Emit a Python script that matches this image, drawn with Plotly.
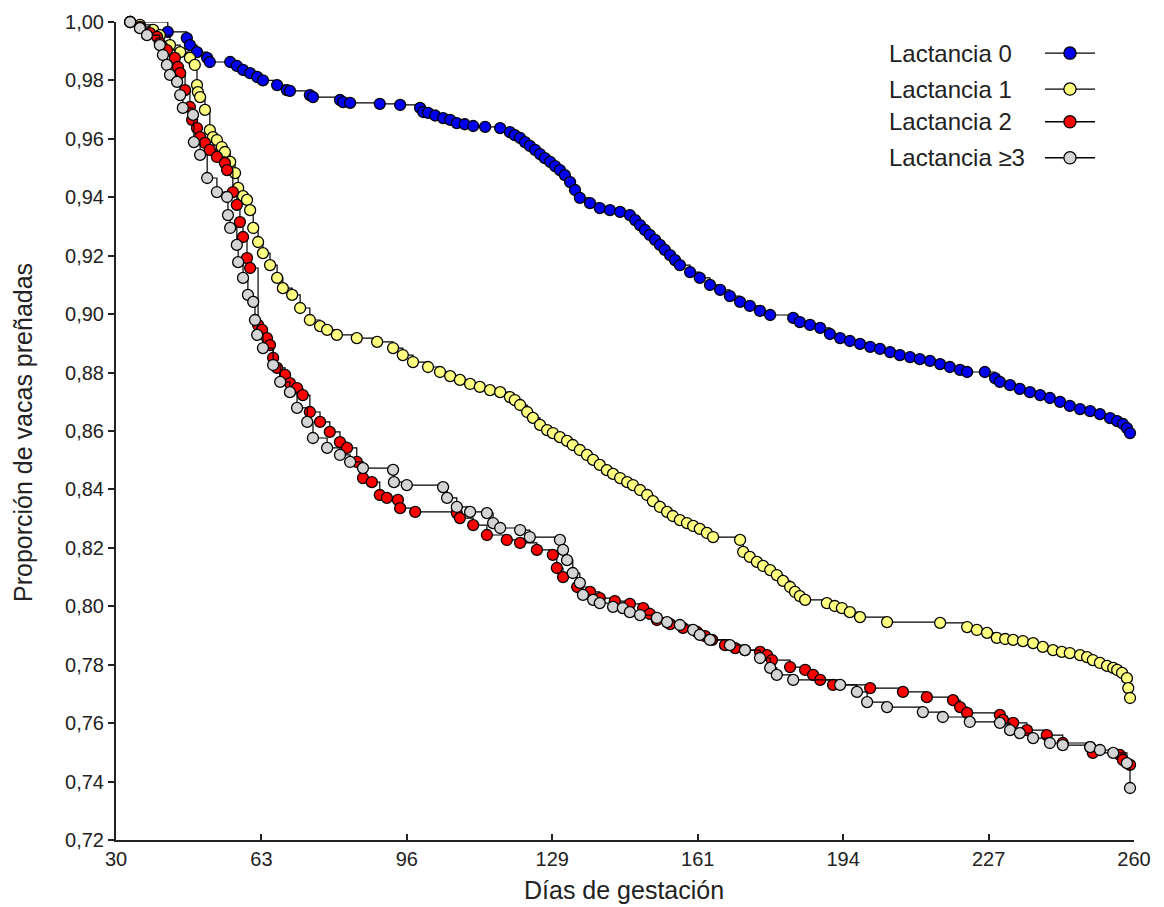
import plotly.graph_objects as go

# ---------------- data ----------------
series_names = ["Lactancia 0", "Lactancia 1", "Lactancia 2", "Lactancia \u22653"]
series_colors = ["#0000F0", "#FFFF80", "#FF0000", "#D4D4D4"]

lact0_x = [33.2, 41.7, 46.0, 46.7, 48.3, 50.6, 51.2, 55.8, 57.3, 58.7, 60.3, 61.9, 63.2, 66.4,
           68.6, 69.3, 73.8, 74.5, 80.6, 81.3, 82.9, 89.6, 94.2, 98.7, 99.4, 100.5, 102.1, 103.9,
           105.5, 107.0, 108.8, 110.7, 113.4, 116.8, 119.0, 120.1, 121.3, 122.4, 123.5, 124.7,
           125.8, 126.9, 128.1, 129.2, 130.3, 131.4, 132.6, 133.7, 134.8, 137.1, 139.3, 141.6,
           143.9, 146.1, 147.3, 148.4, 149.5, 150.6, 151.8, 152.9, 154.0, 155.2, 156.3, 157.4,
           159.7, 161.9, 164.2, 166.5, 168.7, 171.0, 173.2, 175.5, 177.8, 183.0, 184.5, 186.8,
           189.1, 191.3, 193.6, 195.8, 198.1, 200.4, 202.6, 204.9, 207.1, 209.4, 211.6, 213.9,
           216.2, 218.4, 220.7, 222.3, 226.3, 228.6, 229.7, 232.0, 234.2, 236.5, 238.8, 241.0,
           243.3, 245.5, 247.8, 250.1, 252.3, 254.6, 256.2, 257.5, 258.4, 259.1]
lact0_y = [1.0000, 0.9966, 0.9945, 0.9921, 0.9897, 0.9877, 0.9863, 0.9863, 0.9850, 0.9836,
           0.9825, 0.9812, 0.9800, 0.9784, 0.9767, 0.9764, 0.9750, 0.9743, 0.9733, 0.9726,
           0.9723, 0.9720, 0.9716, 0.9706, 0.9692, 0.9689, 0.9680, 0.9671, 0.9665, 0.9654,
           0.9650, 0.9644, 0.9641, 0.9637, 0.9623, 0.9613, 0.9603, 0.9589, 0.9576, 0.9562,
           0.9548, 0.9534, 0.9521, 0.9507, 0.9493, 0.9476, 0.9452, 0.9425, 0.9398, 0.9380,
           0.9363, 0.9356, 0.9350, 0.9339, 0.9322, 0.9305, 0.9288, 0.9271, 0.9254, 0.9237,
           0.9220, 0.9202, 0.9185, 0.9168, 0.9144, 0.9124, 0.9100, 0.9083, 0.9062, 0.9042,
           0.9028, 0.9011, 0.8997, 0.8987, 0.8973, 0.8963, 0.8953, 0.8932, 0.8918, 0.8908,
           0.8898, 0.8888, 0.8881, 0.8870, 0.8860, 0.8853, 0.8846, 0.8840, 0.8829, 0.8819,
           0.8809, 0.8802, 0.8802, 0.8781, 0.8768, 0.8757, 0.8744, 0.8733, 0.8723, 0.8713,
           0.8700, 0.8686, 0.8675, 0.8668, 0.8658, 0.8644, 0.8634, 0.8624, 0.8610, 0.8593]

lact1_x = [33.2, 35.4, 38.4, 39.9, 42.2, 44.5, 46.7, 47.8, 48.3, 48.5, 49.0, 50.1, 51.2, 51.9,
           52.8, 53.9, 54.6, 55.8, 56.9, 57.6, 58.7, 59.6, 60.3, 61.0, 62.1, 63.2, 64.8, 66.4,
           67.7, 69.8, 71.6, 73.8, 76.1, 77.7, 79.9, 84.4, 89.0, 92.6, 94.8, 97.1, 100.5, 103.2,
           105.5, 107.7, 110.0, 112.2, 114.5, 116.8, 119.0, 120.1, 121.3, 122.9, 124.2, 125.8,
           127.4, 128.7, 130.3, 131.9, 133.2, 134.8, 136.4, 137.8, 139.3, 140.9, 142.3, 143.9,
           145.5, 146.8, 148.4, 150.0, 151.3, 152.9, 154.5, 155.8, 157.4, 159.0, 160.4, 161.9,
           163.5, 164.9, 171.0, 171.7, 173.2, 174.8, 176.2, 177.8, 179.3, 180.7, 182.3, 183.4,
           184.5, 185.7, 190.6, 192.4, 194.0, 195.8, 198.1, 204.2, 216.2, 222.3, 224.5, 226.8,
           229.0, 230.9, 232.7, 234.9, 237.2, 239.4, 241.7, 243.7, 245.5, 247.8, 249.4, 250.7,
           252.3, 253.9, 255.3, 256.2, 257.3, 258.4, 258.7, 259.1]
lact1_y = [1.0000, 0.9990, 0.9973, 0.9955, 0.9921, 0.9897, 0.9877, 0.9853, 0.9784, 0.9760,
           0.9743, 0.9699, 0.9630, 0.9606, 0.9596, 0.9572, 0.9555, 0.9521, 0.9483, 0.9432,
           0.9404, 0.9391, 0.9356, 0.9295, 0.9247, 0.9209, 0.9168, 0.9124, 0.9089, 0.9066,
           0.9021, 0.8980, 0.8959, 0.8946, 0.8929, 0.8918, 0.8905, 0.8884, 0.8860, 0.8836,
           0.8819, 0.8802, 0.8788, 0.8775, 0.8761, 0.8751, 0.8740, 0.8733, 0.8716, 0.8706,
           0.8689, 0.8665, 0.8645, 0.8621, 0.8603, 0.8593, 0.8579, 0.8566, 0.8552, 0.8535,
           0.8518, 0.8501, 0.8484, 0.8466, 0.8453, 0.8439, 0.8425, 0.8415, 0.8398, 0.8381,
           0.8360, 0.8340, 0.8323, 0.8309, 0.8295, 0.8285, 0.8275, 0.8265, 0.8251, 0.8237,
           0.8227, 0.8186, 0.8169, 0.8152, 0.8138, 0.8124, 0.8107, 0.8087, 0.8066, 0.8049,
           0.8035, 0.8022, 0.8011, 0.8001, 0.7994, 0.7980, 0.7963, 0.7946, 0.7943, 0.7929,
           0.7919, 0.7909, 0.7892, 0.7888, 0.7885, 0.7881, 0.7874, 0.7861, 0.7850, 0.7844,
           0.7840, 0.7833, 0.7826, 0.7816, 0.7806, 0.7796, 0.7789, 0.7782, 0.7772, 0.7754,
           0.7720, 0.7686]

lact2_x = [33.2, 35.4, 37.7, 39.3, 39.9, 41.5, 43.3, 44.0, 44.5, 45.6, 46.7, 47.2, 48.3, 49.0,
           50.1, 51.2, 52.8, 54.6, 55.1, 56.4, 57.3, 58.0, 58.7, 59.6, 60.3, 62.1, 63.0, 64.1,
           64.8, 65.5, 66.4, 68.2, 69.3, 70.9, 72.2, 73.8, 76.1, 78.3, 80.6, 82.2, 84.4, 85.8,
           87.8, 89.6, 91.2, 93.7, 94.2, 97.6, 107.0, 107.7, 110.7, 113.8, 118.3, 121.3, 125.1,
           128.7, 129.6, 131.0, 134.2, 137.1, 139.3, 142.7, 146.1, 149.1, 150.6, 152.2, 155.2,
           158.1, 161.3, 163.1, 164.7, 167.6, 169.9, 172.1, 175.5, 177.1, 178.2, 182.3, 185.7,
           187.5, 189.1, 192.0, 200.4, 207.8, 213.2, 219.1, 220.7, 222.3, 229.7, 230.4, 232.7,
           235.8, 240.3, 243.9, 250.1, 250.7, 256.8, 257.5, 259.1]
lact2_y = [1.0000, 0.9983, 0.9962, 0.9949, 0.9928, 0.9904, 0.9877, 0.9846, 0.9825, 0.9767,
           0.9709, 0.9665, 0.9637, 0.9606, 0.9586, 0.9562, 0.9538, 0.9517, 0.9493, 0.9418,
           0.9374, 0.9315, 0.9264, 0.9192, 0.9158, 0.8963, 0.8946, 0.8918, 0.8894, 0.8850,
           0.8816, 0.8792, 0.8764, 0.8747, 0.8723, 0.8665, 0.8631, 0.8597, 0.8562, 0.8542,
           0.8494, 0.8439, 0.8425, 0.8381, 0.8371, 0.8364, 0.8336, 0.8323, 0.8319, 0.8302,
           0.8278, 0.8244, 0.8227, 0.8217, 0.8193, 0.8176, 0.8131, 0.8100, 0.8066, 0.8049,
           0.8028, 0.8018, 0.8008, 0.7994, 0.7974, 0.7953, 0.7939, 0.7926, 0.7912, 0.7898,
           0.7885, 0.7867, 0.7857, 0.7850, 0.7844, 0.7833, 0.7816, 0.7792, 0.7782, 0.7765,
           0.7748, 0.7731, 0.7720, 0.7707, 0.7689, 0.7679, 0.7655, 0.7635, 0.7628, 0.7611,
           0.7601, 0.7576, 0.7559, 0.7532, 0.7518, 0.7498, 0.7491, 0.7474, 0.7457]

lact3_x = [33.2, 35.4, 37.0, 39.9, 40.6, 41.5, 42.2, 43.8, 44.5, 45.1, 47.4, 47.6, 49.0, 50.6,
           52.8, 55.1, 55.3, 55.8, 57.3, 57.6, 58.7, 59.8, 61.0, 61.4, 61.9, 63.2, 65.5, 67.1,
           69.3, 70.9, 73.2, 74.5, 77.7, 80.6, 82.9, 85.8, 92.6, 92.8, 95.7, 103.9, 104.8, 107.0,
           110.0, 113.8, 115.2, 116.8, 121.3, 123.5, 130.3, 131.0, 131.9, 133.2, 134.8, 135.5,
           137.8, 139.3, 142.3, 144.5, 146.1, 148.4, 152.2, 154.5, 157.4, 160.4, 161.9, 164.2,
           168.7, 172.1, 175.5, 177.8, 179.3, 183.0, 193.6, 197.4, 199.7, 204.2, 212.3, 216.8,
           222.9, 229.7, 232.0, 234.2, 237.2, 241.0, 243.9, 250.1, 252.3, 255.3, 258.4, 259.1]
lact3_y = [1.0000, 0.9979, 0.9955, 0.9921, 0.9887, 0.9853, 0.9819, 0.9795, 0.9750, 0.9706,
           0.9682, 0.9589, 0.9545, 0.9466, 0.9418, 0.9401, 0.9339, 0.9295, 0.9237, 0.9178,
           0.9124, 0.9066, 0.9042, 0.8980, 0.8929, 0.8884, 0.8826, 0.8768, 0.8733, 0.8679,
           0.8631, 0.8576, 0.8542, 0.8518, 0.8494, 0.8473, 0.8467, 0.8425, 0.8415, 0.8408,
           0.8371, 0.8340, 0.8323, 0.8319, 0.8285, 0.8268, 0.8261, 0.8237, 0.8227, 0.8193,
           0.8158, 0.8114, 0.8080, 0.8039, 0.8022, 0.8011, 0.7998, 0.7994, 0.7980, 0.7970,
           0.7960, 0.7946, 0.7936, 0.7919, 0.7902, 0.7885, 0.7867, 0.7850, 0.7823, 0.7789,
           0.7765, 0.7748, 0.7731, 0.7707, 0.7672, 0.7655, 0.7638, 0.7621, 0.7604, 0.7601,
           0.7576, 0.7566, 0.7549, 0.7532, 0.7525, 0.7518, 0.7508, 0.7498, 0.7463, 0.7378]

x_tick_vals = [30 + i * (230 / 7) for i in range(8)]
x_tick_text = ["30", "63", "96", "129", "161", "194", "227", "260"]
y_tick_vals = [0.72, 0.74, 0.76, 0.78, 0.80, 0.82, 0.84, 0.86, 0.88, 0.90, 0.92, 0.94, 0.96, 0.98, 1.00]

all_x = [lact0_x, lact1_x, lact2_x, lact3_x]
all_y = [lact0_y, lact1_y, lact2_y, lact3_y]

FONT = "Liberation Sans, Arial, sans-serif"
INK = "#222222"

fig = go.Figure()
for name, col, xs, ys in zip(series_names, series_colors, all_x, all_y):
    fig.add_trace(go.Scatter(
        x=xs, y=ys, name=name, mode="lines+markers",
        line=dict(shape="hv", color="black", width=1.2),
        marker=dict(symbol="circle", size=11, color=col, line=dict(color="black", width=1.3)),
        cliponaxis=False, showlegend=False,
    ))

# custom legend: text on the left, line+marker symbol on the right
leg_y = [0.962, 0.918, 0.878, 0.834]
for name, col, ly in zip(series_names, series_colors, leg_y):
    fig.add_annotation(xref="paper", yref="paper", x=0.757, y=ly, text=name, showarrow=False,
                       xanchor="left", yanchor="middle",
                       font=dict(family=FONT, size=24, color=INK))
    fig.add_shape(type="line", xref="paper", yref="paper", x0=0.9126, x1=0.9617, y0=ly, y1=ly,
                  line=dict(color="black", width=1.4))
    fig.add_shape(type="circle", xref="paper", yref="paper",
                  x0=0.9371 - 0.0060, x1=0.9371 + 0.0060, y0=ly - 0.0075, y1=ly + 0.0075,
                  fillcolor=col, line=dict(color="black", width=1.3))

# axis titles as annotations (placed as in the reference)
fig.add_annotation(xref="paper", yref="paper", x=0.499, y=-0.061, text="Días de gestación",
                   showarrow=False, xanchor="center", yanchor="middle",
                   font=dict(family=FONT, size=25, color=INK))
fig.add_annotation(xref="paper", yref="paper", x=-0.092, y=0.498,
                   text="Proporción de vacas preñadas", textangle=-90,
                   showarrow=False, xanchor="center", yanchor="middle",
                   font=dict(family=FONT, size=25, color=INK))

fig.update_layout(
    width=1164, height=907,
    margin=dict(l=116, r=30, t=22, b=67),
    paper_bgcolor="white", plot_bgcolor="white",
    separators=",.",
    font=dict(family=FONT, size=20, color=INK),
    xaxis=dict(range=[30, 260], tickvals=x_tick_vals, ticktext=x_tick_text, automargin=False,
               showgrid=False, zeroline=False, showline=True, linecolor=INK, linewidth=2,
               ticks="inside", ticklen=6, tickcolor=INK, tickwidth=2,
               tickfont=dict(family=FONT, size=20, color=INK)),
    yaxis=dict(range=[0.72, 1.00], tickvals=y_tick_vals, tickformat=".2f", automargin=False,
               showgrid=False, zeroline=False, showline=True, linecolor=INK, linewidth=2,
               ticks="outside", ticklen=6, tickcolor=INK, tickwidth=2,
               tickfont=dict(family=FONT, size=20, color=INK)),
)

fig.write_html("out.html", post_script="document.body.style.margin='0';",
               config={"displayModeBar": False})
